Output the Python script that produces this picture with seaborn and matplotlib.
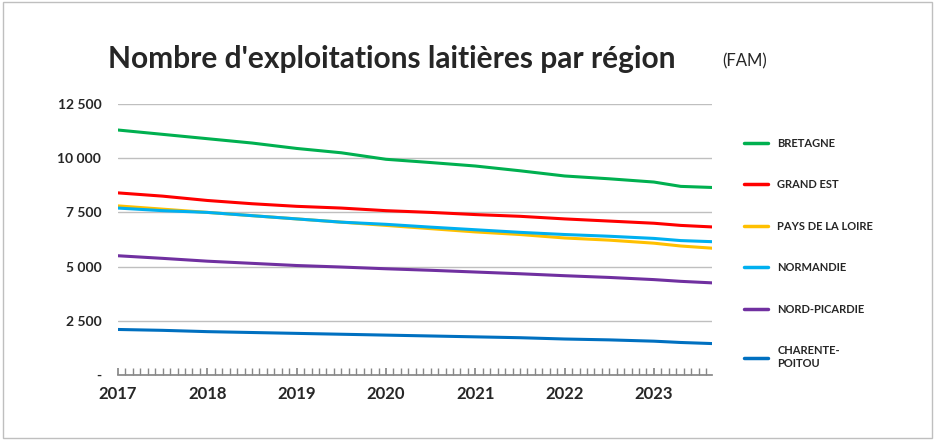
import pandas as pd
import numpy as np
import matplotlib
matplotlib.use("Agg")
import matplotlib.pyplot as plt
import seaborn as sns
from matplotlib.lines import Line2D

sns.set_theme(style="white")
plt.rcParams['font.family'] = ['Lato', 'DejaVu Sans']

# dates (year fraction) and values
dates = [2017.0, 2017.5, 2018.0, 2018.5, 2019.0, 2019.5, 2020.0, 2020.5,
         2021.0, 2021.5, 2022.0, 2022.5, 2023.0, 2023.3, 2023.65]
bretagne = [11300, 11100, 10900, 10700, 10450, 10250, 9950, 9800,
            9640, 9420, 9180, 9050, 8900, 8700, 8650]
grand_est = [8400, 8250, 8050, 7900, 7780, 7700, 7580, 7500,
             7400, 7320, 7200, 7100, 7000, 6900, 6830]
pays_loire = [7800, 7650, 7500, 7350, 7200, 7050, 6900, 6750,
              6600, 6480, 6320, 6220, 6080, 5950, 5850]
normandie = [7700, 7580, 7500, 7350, 7200, 7050, 6950, 6820,
             6700, 6580, 6480, 6400, 6300, 6200, 6150]
nord_picardie = [5500, 5380, 5250, 5150, 5050, 4980, 4900, 4830,
                 4750, 4670, 4580, 4500, 4400, 4320, 4250]
charente = [2100, 2060, 2000, 1960, 1920, 1880, 1840, 1800,
            1760, 1720, 1660, 1620, 1560, 1500, 1450]

regions = ["BRETAGNE", "GRAND EST", "PAYS DE LA LOIRE", "NORMANDIE",
           "NORD-PICARDIE", "CHARENTE-\nPOITOU"]
colors = ["#00B050", "#FF0000", "#FFC000", "#00B0F0", "#7030A0", "#0070C0"]
series = [bretagne, grand_est, pays_loire, normandie, nord_picardie, charente]

df = pd.concat([pd.DataFrame({"date": dates, "value": s, "region": r})
                for r, s in zip(regions, series)])

fig = plt.figure(figsize=(9.35, 4.4), dpi=100)
ax = fig.add_axes([118/935, 1-375/440, (712-118)/935, (375-104)/440])
sns.lineplot(data=df, x="date", y="value", hue="region", palette=colors,
             linewidth=2.2, ax=ax, legend=False)

ax.set_xlim(2017, 2023.65)
ax.set_ylim(0, 12500)
ax.set_yticks([0, 2500, 5000, 7500, 10000, 12500])
ax.set_yticklabels(["-", "2 500", "5 000", "7 500", "10 000", "12 500"],
                   fontsize=10, fontweight="bold")
ax.set_xticks(range(2017, 2024))
ax.set_xticklabels([str(y) for y in range(2017, 2024)], fontsize=12, fontweight="bold")
ax.set_xticks(np.arange(2017, 2023.65, 1/12), minor=True)
ax.tick_params(axis="x", which="both", direction="in", length=5, color="#888888", pad=8, bottom=True)
ax.tick_params(axis="y", length=0, pad=12)
ax.yaxis.grid(True, color="#BFBFBF", linewidth=1)
for side in ["top", "right", "left"]:
    ax.spines[side].set_visible(False)
ax.spines["bottom"].set_color("#888888")
ax.set_xlabel("")
ax.set_ylabel("")

handles = [Line2D([0], [0], color=c, lw=2.5) for c in colors]
fig.legend(handles, regions, loc="upper left", bbox_to_anchor=(0.785, 0.71),
           frameon=False, prop={"size": 8, "weight": "bold"},
           labelspacing=2.75, handlelength=2.2)

fig.text(0.115, 0.845, "Nombre d'exploitations laitières par région",
         fontsize=21.5, fontweight="bold")
fig.text(0.772, 0.848, "(FAM)", fontsize=12)

fig.patches.append(plt.Rectangle((0.003, 0.005), 0.994, 0.99, transform=fig.transFigure,
                                 fill=False, edgecolor="#BFBFBF", linewidth=1))
fig.savefig("out.png", dpi=100)
